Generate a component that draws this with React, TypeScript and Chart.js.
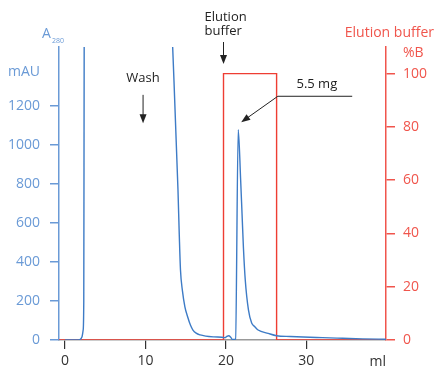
import React, { useEffect, useRef } from "react";
import { Chart, registerables } from "chart.js";

Chart.register(...registerables);

// A280 trace (ml, mAU) – values above 1500 run off the top of the plot
const absVolume = [0, 1.5, 1.9, 2.1, 2.25, 2.33, 2.38, 2.45, 12.9, 13.38, 14.04, 14.2, 14.35, 14.6, 14.9, 15.24, 15.6, 15.9, 16.3, 16.8, 17.5, 18.5, 19.5, 19.9, 20.1, 20.35, 20.6, 20.8, 21.05, 21.2, 21.53, 21.83, 22.0, 22.18, 22.4, 22.8, 23.2, 23.6, 24.0, 25.25, 26.3, 28, 29.6, 32, 34.5, 37, 39.9];
const absValues = [0, 0, 3, 15, 50, 200, 1500, 2000, 2000, 1500, 769, 540, 360, 250, 170, 119, 75, 51, 35, 26, 20, 16, 14, 12, 18, 22, 14, 3, 3, 5, 1077, 820, 650, 470, 310, 154, 87, 68, 51, 34, 22, 18, 15, 12, 9, 6, 4];

// Elution buffer step (ml, %B)
const bufferVolume = [-0.75, 19.7, 19.7, 26.3, 26.3, 39.9];
const bufferValues = [0, 0, 100, 100, 0, 0];

const xTicks = [0, 10, 20, 30];
const leftTicks = [0, 200, 400, 600, 800, 1000, 1200];
const rightTicks = [0, 20, 40, 60, 80, 100];

const BLUE_AXIS = "#6a9ad6";
const BLUE_LINE = "#3d7bc6";
const RED_AXIS = "#f0554c";
const RED_LINE = "#ee3d33";
const DARK = "#333333";
const FONT = "'Open Sans', sans-serif";

function arrow(ctx: CanvasRenderingContext2D, x1: number, y1: number, x2: number, y2: number) {
  const ang = Math.atan2(y2 - y1, x2 - x1);
  const hl = 9;
  const hw = 3.5;
  ctx.beginPath();
  ctx.moveTo(x1, y1);
  ctx.lineTo(x2 - Math.cos(ang) * hl * 0.8, y2 - Math.sin(ang) * hl * 0.8);
  ctx.stroke();
  ctx.beginPath();
  ctx.moveTo(x2, y2);
  ctx.lineTo(x2 - Math.cos(ang) * hl - Math.sin(ang) * hw, y2 - Math.sin(ang) * hl + Math.cos(ang) * hw);
  ctx.lineTo(x2 - Math.cos(ang) * hl + Math.sin(ang) * hw, y2 - Math.sin(ang) * hl - Math.cos(ang) * hw);
  ctx.closePath();
  ctx.fill();
}

const annotations = {
  id: "annotations",
  afterDraw(chart: any) {
    const ctx = chart.ctx as CanvasRenderingContext2D;
    const xs = chart.scales.x;
    const ys = chart.scales.y;
    const ys2 = chart.scales.y2;
    const area = chart.chartArea;
    ctx.save();
    ctx.textBaseline = "middle";

    // left axis titles
    ctx.fillStyle = BLUE_AXIS;
    ctx.textAlign = "left";
    ctx.font = `14px ${FONT}`;
    ctx.fillText("A", area.left - 17, area.top - 13);
    ctx.font = `7px ${FONT}`;
    ctx.fillText("280", area.left - 7, area.top - 6);
    ctx.font = `14px ${FONT}`;
    ctx.textAlign = "right";
    ctx.fillText("mAU", area.left - 19, area.top + 25);

    // right axis titles
    ctx.fillStyle = RED_AXIS;
    ctx.textAlign = "right";
    ctx.font = `14px ${FONT}`;
    ctx.fillText("Elution buffer", chart.width, area.top - 14);
    ctx.textAlign = "left";
    ctx.fillText("%B", area.right + 17, area.top + 6);

    // x unit
    ctx.fillStyle = DARK;
    ctx.textAlign = "right";
    ctx.fillText("ml", area.right, area.bottom + 22);

    // black annotations
    ctx.strokeStyle = "#222";
    ctx.fillStyle = "#222";
    ctx.lineWidth = 1;
    ctx.font = `13px ${FONT}`;
    ctx.textAlign = "center";
    const washX = xs.getPixelForValue(9.7);
    ctx.fillText("Wash", washX, ys.getPixelForValue(1340));
    arrow(ctx, washX, ys.getPixelForValue(1255), washX, ys.getPixelForValue(1110));

    ctx.textAlign = "left";
    const ebX = xs.getPixelForValue(19.7);
    ctx.fillText("Elution", ebX - 19, 17);
    ctx.fillText("buffer", ebX - 19, 31);
    arrow(ctx, ebX, 42, ebX, 64);

    ctx.textAlign = "center";
    ctx.fillText("5.5 mg", xs.getPixelForValue(31.3), ys2.getPixelForValue(96));
    const ly = ys2.getPixelForValue(91.5);
    const lx1 = xs.getPixelForValue(35.7);
    const lx2 = xs.getPixelForValue(26.45);
    ctx.beginPath();
    ctx.moveTo(lx1, ly);
    ctx.lineTo(lx2, ly);
    ctx.stroke();
    arrow(ctx, lx2, ly, xs.getPixelForValue(21.9), ys.getPixelForValue(1115));
    ctx.restore();
  },
};

export default function App() {
  const ref = useRef<HTMLCanvasElement>(null);
  useEffect(() => {
    if (!ref.current) return;
    const chart = new Chart(ref.current, {
      type: "line",
      data: {
        datasets: [
          {
            label: "A280",
            data: absVolume.map((v, i) => ({ x: v, y: absValues[i] })),
            borderColor: BLUE_LINE,
            borderWidth: 1.4,
            pointRadius: 0,
            cubicInterpolationMode: "monotone",
            yAxisID: "y",
          },
          {
            label: "Elution buffer",
            data: bufferVolume.map((v, i) => ({ x: v, y: bufferValues[i] })),
            borderColor: RED_LINE,
            borderWidth: 1.4,
            pointRadius: 0,
            tension: 0,
            yAxisID: "y2",
          },
        ],
      },
      options: {
        animation: false,
        responsive: false,
        devicePixelRatio: 1,
        layout: { padding: { top: 47, left: 0, right: 0, bottom: 0 } },
        plugins: { legend: { display: false }, tooltip: { enabled: false } },
        scales: {
          x: {
            type: "linear",
            min: -0.75,
            max: 39.9,
            afterBuildTicks: (s: any) => {
              s.ticks = xTicks.map((v) => ({ value: v }));
            },
            afterFit: (s: any) => {
              s.height = 31;
            },
            grid: { drawOnChartArea: false, drawTicks: true, tickLength: 9, color: "#333", lineWidth: 1.2 },
            border: { color: "#999", width: 1.5 },
            ticks: { color: DARK, font: { family: FONT, size: 14 }, padding: 4, maxRotation: 0, callback: (v: any) => String(v) },
          },
          y: {
            type: "linear",
            position: "left",
            min: 0,
            max: 1500,
            afterBuildTicks: (s: any) => {
              s.ticks = leftTicks.map((v) => ({ value: v }));
            },
            afterFit: (s: any) => {
              s.width = 59;
            },
            grid: { drawOnChartArea: false, drawTicks: true, tickLength: 9, color: BLUE_AXIS, lineWidth: 1.5 },
            border: { color: BLUE_AXIS, width: 1.5 },
            ticks: { color: BLUE_AXIS, font: { family: FONT, size: 14 }, padding: 10, callback: (v: any) => String(v) },
          },
          y2: {
            type: "linear",
            position: "right",
            min: 0,
            max: 110,
            afterBuildTicks: (s: any) => {
              s.ticks = rightTicks.map((v) => ({ value: v }));
            },
            afterFit: (s: any) => {
              s.width = 48;
            },
            grid: { drawOnChartArea: false, drawTicks: true, tickLength: 9, color: RED_AXIS, lineWidth: 1.5 },
            border: { color: RED_AXIS, width: 1.5 },
            ticks: { color: RED_AXIS, font: { family: FONT, size: 14 }, padding: 8, callback: (v: any) => String(v) },
          },
        },
      },
      plugins: [annotations],
    } as any);
    return () => chart.destroy();
  }, []);
  return (
    <div style={{ position: "fixed", left: 0, top: 0, width: 434, height: 371, background: "#fff" }}>
      <canvas ref={ref} width={434} height={371} />
    </div>
  );
}
